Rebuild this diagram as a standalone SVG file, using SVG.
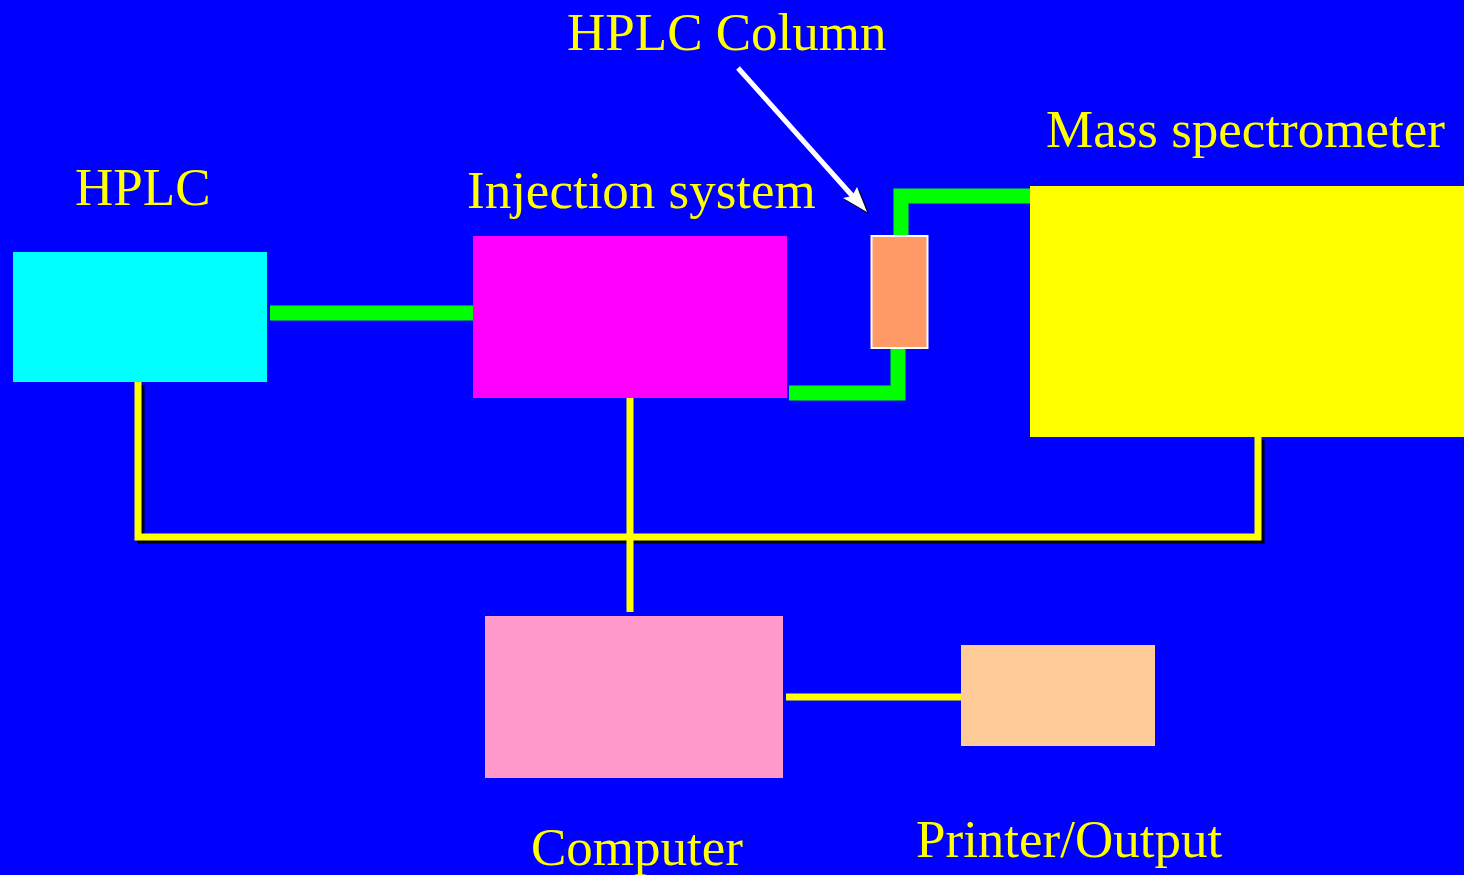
<svg xmlns="http://www.w3.org/2000/svg" width="1464" height="875" viewBox="0 0 1464 875">
<style>
.lbl{font-family:"Liberation Serif","Times New Roman",serif;font-size:53px;fill:#FFFF00}
.g{stroke:#00FF00;stroke-width:15;fill:none}
.y{stroke:#FFFF00;stroke-width:7;fill:none}
.sh{stroke:#000000;stroke-width:7;fill:none}
</style>
<rect x="0" y="0" width="1464" height="875" fill="#0000FF"/>
<g id="connectors">
<polyline class="sh" points="141,385 141,540 1261,540 1261,440"/>
<polyline class="y" points="138,382 138,537 1258,537 1258,437"/>
<line class="y" x1="630" y1="398" x2="630" y2="612"/>
<line class="y" x1="786" y1="697" x2="962" y2="697"/>
<line class="g" x1="270" y1="313" x2="474" y2="313"/>
<polyline class="g" points="789,393 898,393 898,349"/>
<polyline class="g" points="901,235 901,196 1031,196"/>
<line x1="738" y1="68" x2="856" y2="200" stroke="#FFFFFF" stroke-width="5"/>
<polygon points="869,214 845,200 854,198 859,189" fill="#000000"/>
<polygon points="867,212 843,198 852,196 857,187" fill="#FFFFFF"/>
</g>
<g id="hplc">
<rect x="13" y="252" width="254" height="130" fill="#00FFFF"/>
<text class="lbl" x="75" y="205">HPLC</text>
</g>
<g id="injection">
<rect x="473" y="236" width="314" height="162" fill="#FF00FF"/>
<text class="lbl" x="467" y="208">Injection system</text>
</g>
<g id="column">
<rect x="871.5" y="236" width="56" height="112" fill="#FF9966" stroke="#FFFFFF" stroke-width="2"/>
<text class="lbl" x="567" y="50">HPLC Column</text>
</g>
<g id="mass">
<rect x="1030" y="186" width="434" height="251" fill="#FFFF00"/>
<text class="lbl" x="1046" y="147">Mass spectrometer</text>
</g>
<g id="computer">
<rect x="485" y="616" width="298" height="162" fill="#FF99CC"/>
<text class="lbl" x="531" y="865">Computer</text>
</g>
<g id="printer">
<rect x="961" y="645" width="194" height="101" fill="#FFCC99"/>
<text class="lbl" x="916" y="857">Printer/Output</text>
</g>
</svg>
